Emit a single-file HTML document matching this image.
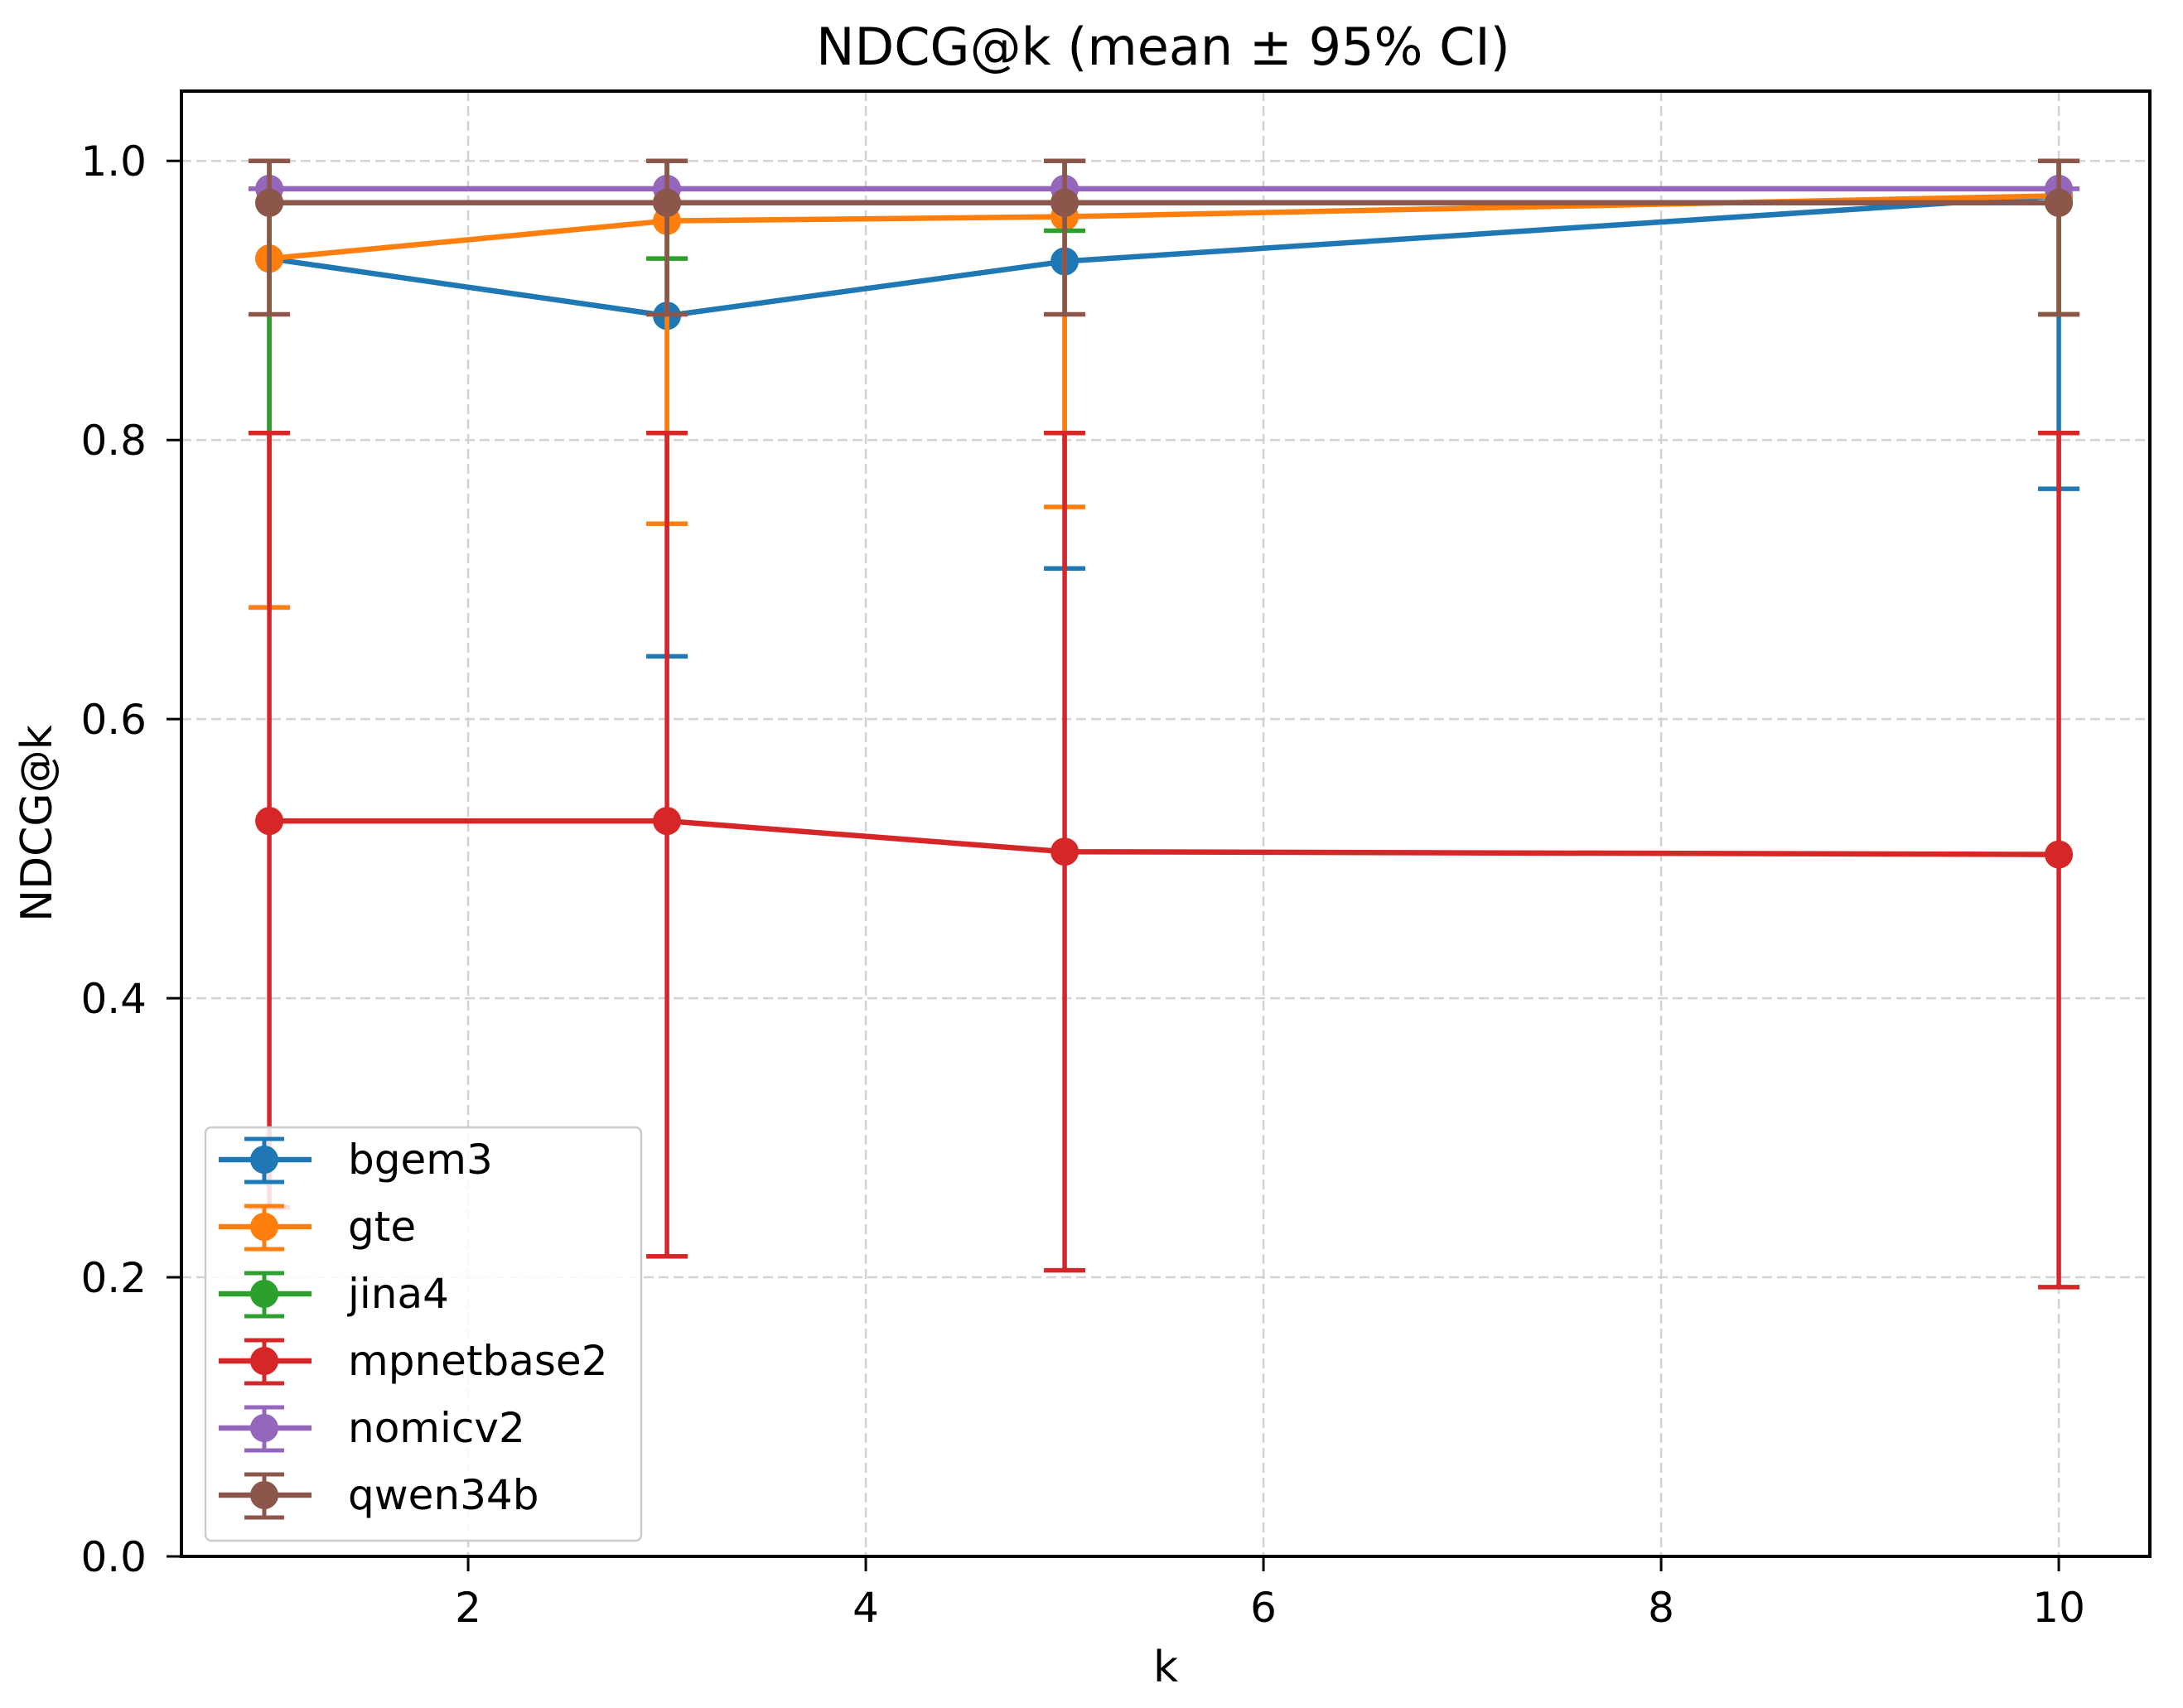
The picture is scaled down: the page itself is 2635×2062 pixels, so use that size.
<!DOCTYPE html>
<html><head><meta charset="utf-8"><style>
html,body{margin:0;padding:0;background:#fff;}
svg{display:block;font-family:"DejaVu Sans","Liberation Sans",sans-serif;}
</style></head><body>
<svg id="chart" width="2635" height="2062" viewBox="0 0 2635 2062" xmlns="http://www.w3.org/2000/svg">
<rect width="2635" height="2062" fill="#fff"/>
<g id="grid"></g>
<g id="series"></g>
<g id="axes"></g>
<g id="legend"></g>
<text x="1404" y="78" font-size="62" text-anchor="middle">NDCG@k (mean ± 95% CI)</text>
<text x="1407" y="2030" font-size="52" text-anchor="middle">k</text>
<text x="0" y="0" font-size="52" text-anchor="middle" transform="translate(62,994) rotate(-90)">NDCG@k</text>
</svg>
<script>
const ks = [1, 3, 5, 10];
const seriesNames = ["bgem3", "gte", "jina4", "mpnetbase2", "nomicv2", "qwen34b"];
const colors = ["#1f77b4", "#ff7f0e", "#2ca02c", "#d62728", "#9467bd", "#8c564b"];
const meanBgem3 = [0.930, 0.889, 0.928, 0.975];
const loBgem3 = [0.680, 0.645, 0.708, 0.765];
const hiBgem3 = [1.0, 1.0, 1.0, 1.0];
const meanGte = [0.930, 0.957, 0.960, 0.975];
const loGte = [0.680, 0.740, 0.752, 0.890];
const hiGte = [1.0, 1.0, 1.0, 1.0];
const meanJina4 = [0.970, 0.970, 0.970, 0.970];
const loJina4 = [0.805, 0.930, 0.950, 0.890];
const hiJina4 = [1.0, 1.0, 1.0, 1.0];
const meanMpnet = [0.527, 0.527, 0.505, 0.503];
const loMpnet = [0.250, 0.215, 0.205, 0.193];
const hiMpnet = [0.805, 0.805, 0.805, 0.805];
const meanNomic = [0.980, 0.980, 0.980, 0.980];
const loNomic = [0.980, 0.980, 0.980, 0.980];
const hiNomic = [0.980, 0.980, 0.980, 0.980];
const meanQwen = [0.970, 0.970, 0.970, 0.970];
const loQwen = [0.890, 0.890, 0.890, 0.890];
const hiQwen = [1.0, 1.0, 1.0, 1.0];
const xTicks = [2, 4, 6, 8, 10];
const yTicks = [0.0, 0.2, 0.4, 0.6, 0.8, 1.0];
const yTickLabels = ["0.0", "0.2", "0.4", "0.6", "0.8", "1.0"];

const L = 219, R = 2595, T = 110, B = 1879;
const xMin = 0.558, xMax = 10.458, yMin = 0, yMax = 1.05;
const xs = k => L + (k - xMin) / (xMax - xMin) * (R - L);
const ys = v => B - (v - yMin) / (yMax - yMin) * (B - T);
const NS = "http://www.w3.org/2000/svg";
function mk(tag, attrs, parent) {
  const e = document.createElementNS(NS, tag);
  for (const a in attrs) e.setAttribute(a, attrs[a]);
  parent.appendChild(e);
  return e;
}
const grid = document.getElementById('grid');
const axes = document.getElementById('axes');
const ser = document.getElementById('series');
const leg = document.getElementById('legend');
const LW = 6.5;

xTicks.forEach(t => {
  const x = xs(t);
  const g = mk('line', {x1: x, x2: x, y1: T, y2: B, stroke: '#d3d3d3', 'stroke-width': 2.5, 'stroke-dasharray': '12 6'}, grid);
  
  
  const tk = mk('line', {x1: x, x2: x, y1: B, y2: B + 18, stroke: '#000', 'stroke-width': 3}, axes);
  
  
  const tl = mk('text', {x: x, y: 1958, 'font-size': 50, 'text-anchor': 'middle'}, axes);
  tl.textContent = String(t);
  
  
});
yTicks.forEach((t, i) => {
  const y = ys(t);
  const g = mk('line', {x1: L, x2: R, y1: y, y2: y, stroke: '#d3d3d3', 'stroke-width': 2.5, 'stroke-dasharray': '12 6'}, grid);
  
  
  const tk = mk('line', {x1: L - 18, x2: L, y1: y, y2: y, stroke: '#000', 'stroke-width': 3}, axes);
  
  
  const tl = mk('text', {x: 177, y: y + 18, 'font-size': 50, 'text-anchor': 'end'}, axes);
  tl.textContent = yTickLabels[i];
  
  
});
const frame = mk('rect', {x: L, y: T, width: R - L, height: B - T, fill: 'none', stroke: '#000', 'stroke-width': 4}, axes);



const allMeans = [meanBgem3, meanGte, meanJina4, meanMpnet, meanNomic, meanQwen];
const allLo = [loBgem3, loGte, loJina4, loMpnet, loNomic, loQwen];
const allHi = [hiBgem3, hiGte, hiJina4, hiMpnet, hiNomic, hiQwen];

allMeans.forEach((means, s) => {
  const c = colors[s];
  const g = mk('g', {}, ser);
  
  
  ks.forEach((k, i) => {
    const x = xs(k);
    const e = mk('line', {x1: x, x2: x, y1: ys(allLo[s][i]), y2: ys(allHi[s][i]), stroke: c, 'stroke-width': 5.5}, g);
    
    
    [allLo[s][i], allHi[s][i]].forEach(v => {
      const cap = mk('line', {x1: x - 25, x2: x + 25, y1: ys(v), y2: ys(v), stroke: c, 'stroke-width': 5.5}, g);
      
      
    });
  });
  const pts = ks.map((k, i) => xs(k) + ',' + ys(means[i])).join(' ');
  const pl = mk('polyline', {points: pts, fill: 'none', stroke: c, 'stroke-width': LW}, g);
  
  
  ks.forEach((k, i) => {
    const p = mk('circle', {cx: xs(k), cy: ys(means[i]), r: 17, fill: c}, g);
    
    
  });
});

const box = mk('rect', {x: 248, y: 1361, width: 526, height: 499, rx: 7, fill: '#fff', 'fill-opacity': 0.85, stroke: '#ccc', 'stroke-width': 2.5}, leg);


seriesNames.forEach((n, i) => {
  const y = 1400 + i * 81;
  const c = colors[i];
  const g = mk('g', {}, leg);
  
  
  mk('line', {x1: 319, x2: 319, y1: y - 25, y2: y + 27, stroke: c, 'stroke-width': 5}, g);
  mk('line', {x1: 295, x2: 343, y1: y - 25, y2: y - 25, stroke: c, 'stroke-width': 5}, g);
  mk('line', {x1: 295, x2: 343, y1: y + 27, y2: y + 27, stroke: c, 'stroke-width': 5}, g);
  mk('line', {x1: 264, x2: 376, y1: y, y2: y, stroke: c, 'stroke-width': LW}, g);
  mk('circle', {cx: 319, cy: y, r: 17, fill: c}, g);
  const t = mk('text', {x: 420, y: y + 17, 'font-size': 50}, g);
  t.textContent = n;
});
</script>
</body></html>
